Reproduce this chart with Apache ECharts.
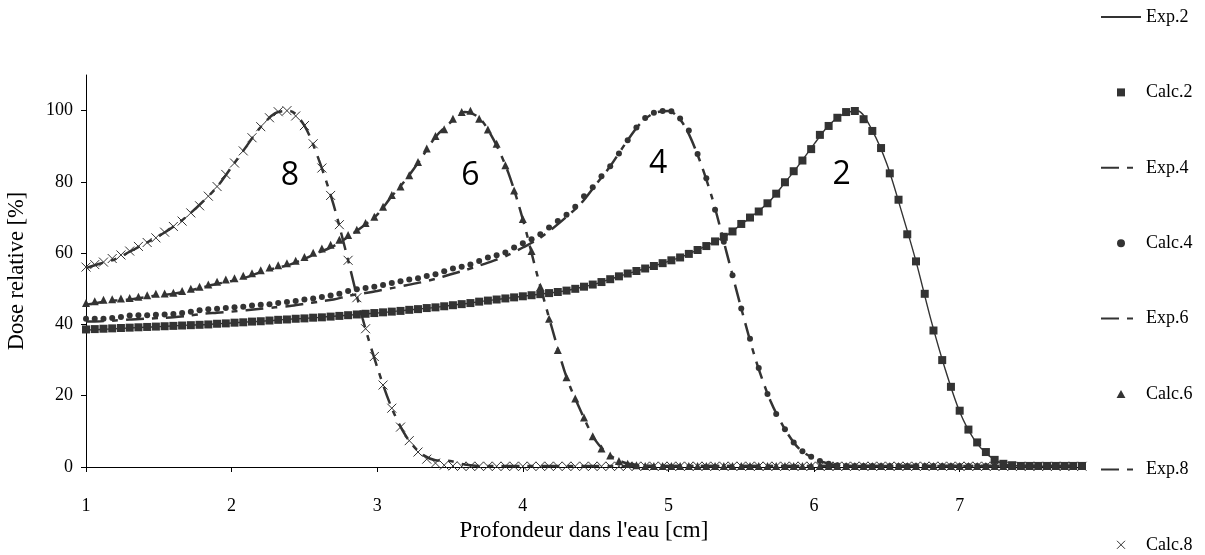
<!DOCTYPE html>
<html>
<head>
<meta charset="utf-8">
<script src="https://cdn.jsdelivr.net/npm/echarts@6/dist/echarts.min.js"></script>
<style>
  html, body { margin: 0; padding: 0; background: #fff; }
  #chart { width: 1205px; height: 555px; }
</style>
</head>
<body>
<div id="chart"></div>
<script>
// depth grid of the calculated points [cm]
const depth = [
  1.00, 1.06, 1.12, 1.18, 1.24, 1.30, 1.36, 1.42, 1.48, 1.54,
  1.60, 1.66, 1.72, 1.78, 1.84, 1.90, 1.96, 2.02, 2.08, 2.14,
  2.20, 2.26, 2.32, 2.38, 2.44, 2.50, 2.56, 2.62, 2.68, 2.74,
  2.80, 2.86, 2.92, 2.98, 3.04, 3.10, 3.16, 3.22, 3.28, 3.34,
  3.40, 3.46, 3.52, 3.58, 3.64, 3.70, 3.76, 3.82, 3.88, 3.94,
  4.00, 4.06, 4.12, 4.18, 4.24, 4.30, 4.36, 4.42, 4.48, 4.54,
  4.60, 4.66, 4.72, 4.78, 4.84, 4.90, 4.96, 5.02, 5.08, 5.14,
  5.20, 5.26, 5.32, 5.38, 5.44, 5.50, 5.56, 5.62, 5.68, 5.74,
  5.80, 5.86, 5.92, 5.98, 6.04, 6.10, 6.16, 6.22, 6.28, 6.34,
  6.40, 6.46, 6.52, 6.58, 6.64, 6.70, 6.76, 6.82, 6.88, 6.94,
  7.00, 7.06, 7.12, 7.18, 7.24, 7.30, 7.36, 7.42, 7.48, 7.54,
  7.60, 7.66, 7.72, 7.78, 7.84,
];

const calc2 = [
  38.6, 38.7, 38.8, 38.9, 39.0, 39.1, 39.2, 39.3, 39.4, 39.5,
  39.6, 39.7, 39.8, 39.9, 40.0, 40.2, 40.3, 40.5, 40.6, 40.8,
  40.9, 41.1, 41.3, 41.4, 41.6, 41.7, 41.9, 42.0, 42.2, 42.4,
  42.6, 42.8, 43.0, 43.2, 43.4, 43.6, 43.8, 44.1, 44.3, 44.6,
  44.8, 45.1, 45.4, 45.7, 46.0, 46.4, 46.7, 47.0, 47.3, 47.6,
  47.9, 48.2, 48.5, 48.8, 49.1, 49.5, 50.0, 50.6, 51.2, 51.9,
  52.7, 53.5, 54.3, 55.0, 55.7, 56.4, 57.2, 58.0, 58.8, 59.8,
  60.9, 62.0, 63.3, 64.6, 66.1, 68.2, 70.0, 71.7, 74.0, 76.7,
  79.9, 83.0, 86.0, 89.2, 93.2, 95.7, 98.0, 99.6, 99.9, 97.6,
  94.3, 89.5, 82.4, 75.0, 65.3, 57.7, 48.6, 38.3, 30.0, 22.5,
  15.8, 10.5, 6.9, 4.2, 2.0, 0.9, 0.5, 0.3, 0.3, 0.3,
  0.3, 0.3, 0.3, 0.3, 0.3,
];

const calc4 = [
  41.6, 41.6, 41.6, 41.8, 42.1, 42.5, 42.6, 42.6, 42.7, 42.8,
  42.9, 43.2, 43.6, 44.0, 44.3, 44.4, 44.6, 44.8, 45.0, 45.3,
  45.5, 45.7, 46.0, 46.3, 46.6, 47.0, 47.3, 47.7, 48.1, 48.6,
  49.4, 49.9, 50.2, 50.6, 51.1, 51.6, 52.1, 52.6, 53.0, 53.6,
  54.1, 54.9, 55.7, 56.2, 56.8, 57.8, 58.8, 59.4, 60.2, 61.6,
  62.8, 63.9, 65.3, 67.2, 69.0, 70.8, 73.0, 76.0, 78.5, 81.6,
  84.4, 88.0, 91.7, 95.3, 97.9, 99.4, 99.9, 99.8, 97.8, 94.4,
  87.8, 81.0, 72.2, 63.2, 53.8, 44.5, 36.0, 27.8, 20.5, 14.9,
  10.6, 6.9, 4.4, 2.9, 1.7, 0.9, 0.5, 0.3, 0.3, 0.3,
  0.3, 0.3, 0.3, 0.3, 0.3, 0.3, 0.3, 0.3, 0.3, 0.3,
  0.3, 0.3, 0.3, 0.3, 0.3, 0.3, 0.3, 0.3, 0.3, 0.3,
  0.3, 0.3, 0.3, 0.3, 0.3,
];

const calc6 = [
  46.0, 46.5, 46.9, 47.1, 47.3, 47.4, 47.8, 48.2, 48.6, 48.7,
  48.9, 49.4, 50.0, 50.6, 51.2, 52.0, 52.6, 53.0, 53.7, 54.4,
  55.2, 56.0, 56.6, 57.2, 57.9, 58.9, 60.1, 61.3, 62.4, 63.8,
  65.1, 66.6, 68.5, 70.2, 73.0, 76.3, 78.7, 81.9, 85.6, 89.4,
  92.9, 94.8, 97.7, 99.6, 100, 97.7, 94.7, 90.7, 84.7, 77.6,
  69.6, 60.6, 50.6, 41.6, 32.8, 25.2, 19.2, 13.9, 8.6, 5.2,
  3.2, 1.7, 0.9, 0.5, 0.3, 0.3, 0.3, 0.3, 0.3, 0.3,
  0.3, 0.3, 0.3, 0.3, 0.3, 0.3, 0.3, 0.3, 0.3, 0.3,
  0.3, 0.3, 0.3, 0.3, 0.3, 0.3, 0.3, 0.3, 0.3, 0.3,
  0.3, 0.3, 0.3, 0.3, 0.3, 0.3, 0.3, 0.3, 0.3, 0.3,
  0.3, 0.3, 0.3, 0.3, 0.3, 0.3, 0.3, 0.3, 0.3, 0.3,
  0.3, 0.3, 0.3, 0.3, 0.3,
];

const calc8 = [
  56.1, 56.8, 57.5, 58.5, 59.5, 60.6, 61.9, 63.0, 64.3, 65.9,
  67.5, 69.0, 71.3, 73.3, 76.0, 78.7, 82.1, 85.3, 88.7, 92.4,
  95.5, 98.0, 99.7, 100, 98.5, 95.8, 90.7, 83.9, 76.2, 68.0,
  58.0, 47.5, 38.8, 31.0, 23.0, 16.5, 11.2, 7.4, 4.2, 2.2,
  1.1, 0.5, 0.3, 0.2, 0.2, 0.2, 0.2, 0.2, 0.2, 0.2,
  0.2, 0.2, 0.2, 0.2, 0.2, 0.2, 0.2, 0.2, 0.2, 0.2,
  0.2, 0.2, 0.2, 0.2, 0.2, 0.2, 0.2, 0.2, 0.2, 0.2,
  0.2, 0.2, 0.2, 0.2, 0.2, 0.2, 0.2, 0.2, 0.2, 0.2,
  0.2, 0.2, 0.2, 0.2, 0.2, 0.2, 0.2, 0.2, 0.2, 0.2,
  0.2, 0.2, 0.2, 0.2, 0.2, 0.2, 0.2, 0.2, 0.2, 0.2,
  0.2, 0.2, 0.2, 0.2, 0.2, 0.2, 0.2, 0.2, 0.2, 0.2,
  0.2, 0.2, 0.2, 0.2, 0.2,
];

// depth grid of the measured curves [cm]
const expDepth = [
  1.0, 1.1, 1.2, 1.3, 1.4, 1.5, 1.6, 1.7, 1.8, 1.9,
  2.0, 2.1, 2.2, 2.3, 2.4, 2.5, 2.6, 2.7, 2.8, 2.9,
  3.0, 3.1, 3.2, 3.3, 3.4, 3.5, 3.6, 3.7, 3.8, 3.9,
  4.0, 4.1, 4.2, 4.3, 4.4, 4.5, 4.6, 4.7, 4.8, 4.9,
  5.0, 5.1, 5.2, 5.3, 5.4, 5.5, 5.6, 5.7, 5.8, 5.9,
  6.0, 6.1, 6.2, 6.3, 6.4, 6.5, 6.6, 6.7, 6.8, 6.9,
  7.0, 7.1, 7.2, 7.3, 7.4, 7.5, 7.6, 7.7, 7.8,
];

const exp2 = [
  38.4, 38.6, 38.8, 39.0, 39.2, 39.4, 39.6, 39.8, 39.9, 40.2,
  40.4, 40.7, 40.9, 41.2, 41.5, 41.7, 42.0, 42.3, 42.6, 42.9,
  43.2, 43.6, 44.0, 44.4, 44.8, 45.3, 45.8, 46.4, 46.9, 47.4,
  47.9, 48.4, 48.9, 49.5, 50.4, 51.4, 52.7, 54.0, 55.2, 56.4,
  57.7, 59.1, 60.9, 62.9, 65.0, 68.1, 71.2, 74.8, 79.8, 85.0,
  90.6, 95.8, 99.0, 99.9, 94.4, 85.0, 71.8, 57.7, 41.7, 27.5,
  15.5, 7.7, 3.2, 0.9, 0.3, 0.2, 0.2, 0.2, 0.2,
];

const exp4 = [
  40.8, 40.9, 41.1, 41.4, 41.6, 41.8, 42.0, 42.4, 43.0, 43.3,
  43.6, 44.0, 44.4, 44.8, 45.2, 45.8, 46.4, 47.0, 48.0, 48.7,
  49.4, 50.2, 51.0, 51.8, 52.8, 54.0, 55.2, 56.5, 57.9, 59.5,
  61.6, 63.8, 66.8, 70.2, 74.0, 79.2, 84.4, 90.5, 96.1, 99.3,
  99.9, 96.4, 87.6, 75.5, 60.1, 44.5, 30.0, 18.6, 10.6, 5.0,
  2.4, 0.9, 0.4, 0.3, 0.3, 0.3, 0.3, 0.3, 0.3, 0.3,
  0.3, 0.3, 0.3, 0.3, 0.3, 0.3, 0.3, 0.3, 0.3,
];

const exp6 = [
  45.5, 46.2, 46.7, 47.0, 47.6, 48.2, 48.6, 49.4, 50.4, 51.4,
  52.2, 53.2, 54.7, 55.8, 56.8, 58.4, 60.2, 62.0, 64.6, 67.5,
  70.8, 76.0, 80.8, 86.5, 92.6, 96.6, 99.6, 98.0, 91.8, 82.6,
  69.5, 53.7, 39.0, 25.2, 15.5, 7.4, 3.2, 1.2, 0.5, 0.3,
  0.3, 0.3, 0.3, 0.3, 0.3, 0.3, 0.3, 0.3, 0.3, 0.3,
  0.3, 0.3, 0.3, 0.3, 0.3, 0.3, 0.3, 0.3, 0.3, 0.3,
  0.3, 0.3, 0.3, 0.3, 0.3, 0.3, 0.3, 0.3, 0.3,
];

const exp8 = [
  55.8, 57.1, 58.3, 60.4, 62.6, 64.8, 67.4, 70.6, 74.4, 78.6,
  84.2, 89.9, 95.4, 99.3, 99.9, 95.8, 86.1, 73.6, 58.0, 41.6,
  28.0, 16.5, 8.5, 3.8, 1.9, 1.7, 0.7, 0.3, 0.3, 0.3,
  0.3, 0.3, 0.3, 0.3, 0.3, 0.3, 0.3, 0.3, 0.3, 0.3,
  0.3, 0.3, 0.3, 0.3, 0.3, 0.3, 0.3, 0.3, 0.3, 0.3,
  0.3, 0.3, 0.3, 0.3, 0.3, 0.3, 0.3, 0.3, 0.3, 0.3,
  0.3, 0.3, 0.3, 0.3, 0.3, 0.3, 0.3, 0.3, 0.3,
];

const xTicks = [1, 2, 3, 4, 5, 6, 7];
const yTicks = [0, 20, 40, 60, 80, 100];

// big numbers written beside each peak: text, depth, dose
const peakTags = {
  "Exp.2": ["2", 6.19, 82],
  "Exp.4": ["4", 4.93, 85],
  "Exp.6": ["6", 3.64, 81.7],
  "Exp.8": ["8", 2.4, 81.8],
};

const ink = "#333";
const serif = "Liberation Serif";
const dashDot = [18, 8, 6, 8];

function pairs(xs, ys) {
  return ys.map((y, i) => [xs[i], y]);
}

function expSeries(name, values, dashed) {
  const tag = peakTags[name];
  return {
    name: name,
    type: "line",
    data: pairs(expDepth, values),
    symbol: "none",
    smooth: 0.3,
    z: 3,
    lineStyle: {
      color: ink,
      width: dashed ? 2.5 : 1.4,
      type: dashed ? dashDot : "solid",
    },
    itemStyle: { color: ink },
    markPoint: {
      silent: true,
      symbol: "circle",
      symbolSize: 1,
      itemStyle: { color: "rgba(0,0,0,0)" },
      label: {
        show: true,
        position: "inside",
        formatter: tag[0],
        fontFamily: "Open Sans",
        fontSize: 32,
        color: "#000",
      },
      data: [{ coord: [tag[1], tag[2]] }],
    },
  };
}

function calcSeries(name, values, symbol, size, stroke) {
  return {
    name: name,
    type: "scatter",
    data: pairs(depth, values),
    symbol: symbol,
    symbolSize: size,
    z: 4,
    itemStyle: stroke
      ? { color: ink, borderColor: ink, borderWidth: 1, opacity: 1 }
      : { color: ink, opacity: 1 },
  };
}

const chart = echarts.init(document.getElementById("chart"));

chart.setOption({
  animation: false,
  backgroundColor: "#fff",
  grid: { left: 86, right: 123, top: 75, bottom: 88, containLabel: false, outerBoundsMode: "none" },
  legend: {
    orient: "vertical",
    left: 1100,
    top: 8,
    padding: 0,
    itemWidth: 40,
    itemHeight: 8,
    itemGap: 57.4,
    textStyle: { fontFamily: serif, fontSize: 18, color: "#000", lineHeight: 18 },
    data: [
      { name: "Exp.2", itemStyle: { opacity: 0 } },
      "Calc.2",
      { name: "Exp.4", itemStyle: { opacity: 0 } },
      "Calc.4",
      { name: "Exp.6", itemStyle: { opacity: 0 } },
      "Calc.6",
      { name: "Exp.8", itemStyle: { opacity: 0 } },
      { name: "Calc.8", itemStyle: { borderWidth: 1 } },
    ],
  },
  xAxis: {
    type: "value",
    min: 1,
    max: 7.84,
    name: "Profondeur dans l'eau [cm]",
    nameLocation: "middle",
    nameGap: 51,
    nameTextStyle: { fontFamily: serif, fontSize: 23, color: "#000" },
    axisLine: { lineStyle: { color: "#000", width: 1 } },
    axisTick: { customValues: xTicks, length: 5, lineStyle: { color: "#000" } },
    axisLabel: {
      customValues: xTicks,
      margin: 30,
      fontFamily: serif,
      fontSize: 18,
      color: "#000",
    },
    splitLine: { show: false },
  },
  yAxis: {
    type: "value",
    min: 0,
    max: 110,
    name: "Dose relative [%]",
    nameLocation: "middle",
    nameGap: 57,
    nameTextStyle: { fontFamily: serif, fontSize: 22.5, color: "#000" },
    axisLine: { show: true, lineStyle: { color: "#000", width: 1 } },
    axisTick: { show: true, customValues: yTicks, length: 5, lineStyle: { color: "#000" } },
    axisLabel: {
      customValues: yTicks,
      margin: 13,
      fontFamily: serif,
      fontSize: 18,
      color: "#000",
    },
    splitLine: { show: false },
  },
  series: [
    expSeries("Exp.2", exp2, false),
    calcSeries("Calc.2", calc2, "path://M0,0H10V10H0Z", 8),
    expSeries("Exp.4", exp4, true),
    calcSeries("Calc.4", calc4, "circle", 6),
    expSeries("Exp.6", exp6, true),
    calcSeries("Calc.6", calc6, "path://M5,0L10,9L0,9Z", 8),
    expSeries("Exp.8", exp8, true),
    calcSeries("Calc.8", calc8, "path://M0,0L10,10M10,0L0,10", 9, true),
  ],
});
</script>
</body>
</html>
